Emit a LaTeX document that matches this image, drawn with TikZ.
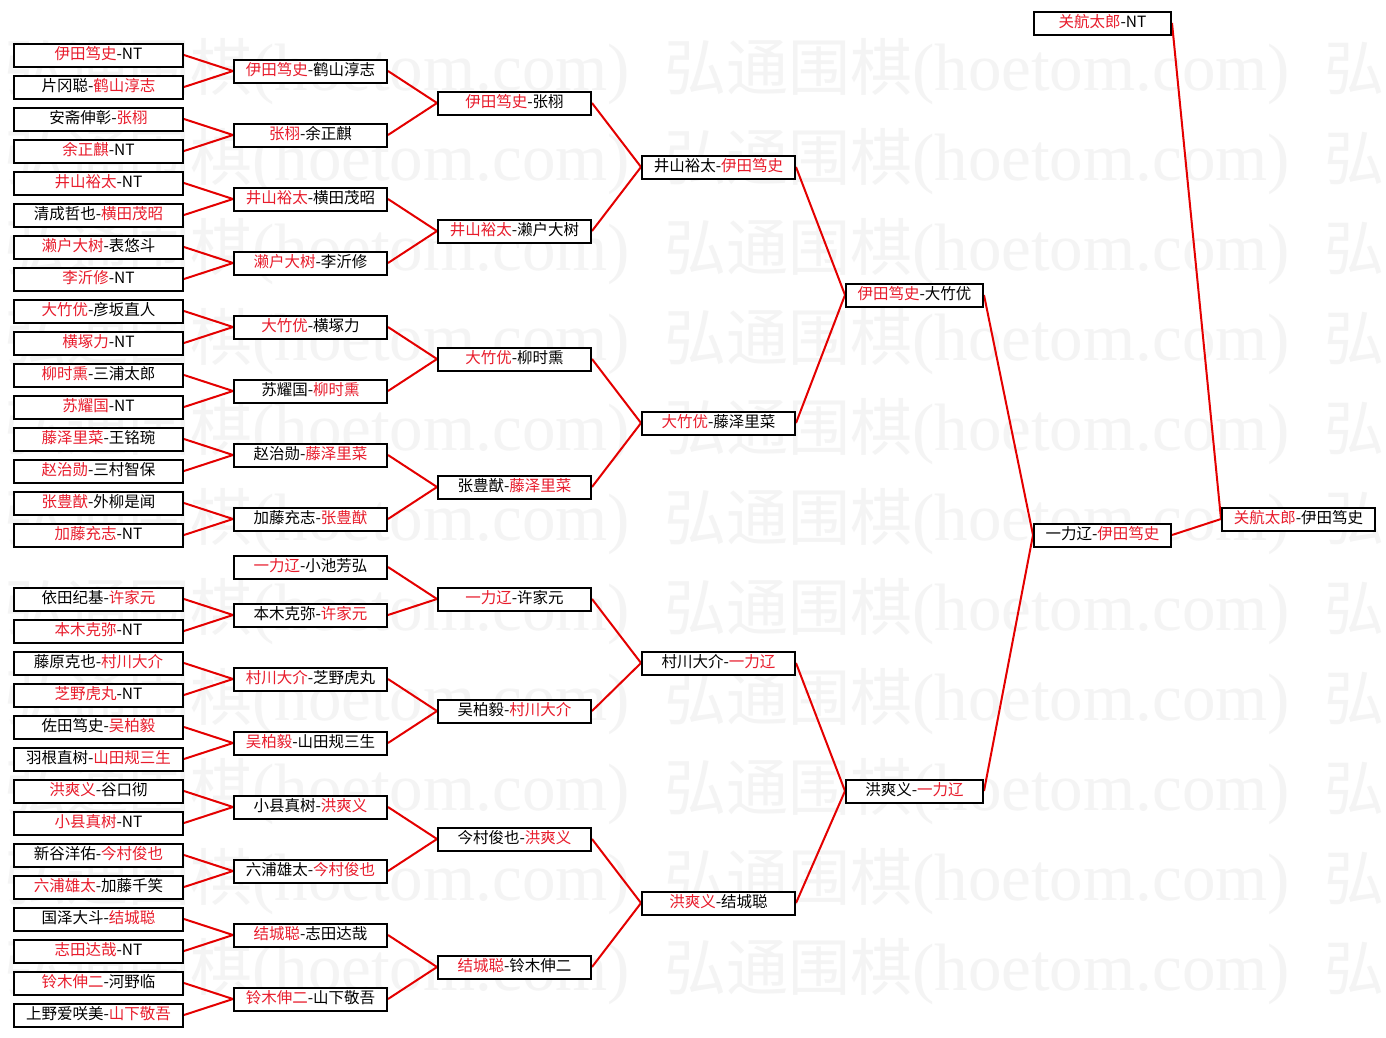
\documentclass[tikz,border=0pt]{standalone}
\usepackage{fontspec}
\setmainfont{Noto Sans CJK SC}
\newfontfamily\wmserif{Liberation Serif}
\definecolor{tred}{RGB}{232,28,44}
\definecolor{lred}{RGB}{228,0,0}
\definecolor{wmgray}{RGB}{244,244,244}
\newcommand{\Rt}[1]{\textcolor{tred}{#1}}
\pgfdeclarelayer{wmlayer}
\pgfdeclarelayer{lklayer}
\pgfsetlayers{wmlayer,lklayer,main}
\begin{document}
\begin{tikzpicture}[x=1pt,y=-1pt,
  pbox/.style={draw=black, line width=2pt, fill=white, inner sep=0pt,
    minimum height=23pt, text height=12pt, text depth=3pt,
    font=\fontsize{15.5}{18}\selectfont},
  w1/.style={pbox, minimum width=169pt},
  w2/.style={pbox, minimum width=153pt},
  w5/.style={pbox, minimum width=137pt},
  link/.style={draw=lred, line width=2pt},
  wmark/.style={text=wmgray, inner sep=0pt, anchor=base west}]
\useasboundingbox (0,0) rectangle (1386,1037);
\begin{pgfonlayer}{wmlayer}
\fill[white] (0,0) rectangle (1386,1037);
\foreach \k in {0,...,10}{
  \foreach \x in {4,664}{
    \node[wmark] (wm-\k-\x) at (\x,{90+90*\k})
      {{\fontsize{62}{62}\selectfont 弘通围棋}{\wmserif\fontsize{67}{67}\selectfont (hoetom.com)}};
  }
  \node[wmark] (wm-\k-r) at (1324,{90+90*\k}) {\fontsize{60}{60}\selectfont 弘};
}
\end{pgfonlayer}
% column 1
\node[w1] (p1) at (98.5,55) {\Rt{伊田笃史}-NT};
\node[w1] (p2) at (98.5,87) {片冈聪-\Rt{鹤山淳志}};
\node[w1] (p3) at (98.5,119) {安斋伸彰-\Rt{张栩}};
\node[w1] (p4) at (98.5,151) {\Rt{余正麒}-NT};
\node[w1] (p5) at (98.5,183) {\Rt{井山裕太}-NT};
\node[w1] (p6) at (98.5,215) {清成哲也-\Rt{横田茂昭}};
\node[w1] (p7) at (98.5,247) {\Rt{濑户大树}-表悠斗};
\node[w1] (p8) at (98.5,279) {\Rt{李沂修}-NT};
\node[w1] (p9) at (98.5,311) {\Rt{大竹优}-彦坂直人};
\node[w1] (p10) at (98.5,343) {\Rt{横塚力}-NT};
\node[w1] (p11) at (98.5,375) {\Rt{柳时熏}-三浦太郎};
\node[w1] (p12) at (98.5,407) {\Rt{苏耀国}-NT};
\node[w1] (p13) at (98.5,439) {\Rt{藤泽里菜}-王铭琬};
\node[w1] (p14) at (98.5,471) {\Rt{赵治勋}-三村智保};
\node[w1] (p15) at (98.5,503) {\Rt{张豊猷}-外柳是闻};
\node[w1] (p16) at (98.5,535) {\Rt{加藤充志}-NT};
\node[w1] (p17) at (98.5,599) {依田纪基-\Rt{许家元}};
\node[w1] (p18) at (98.5,631) {\Rt{本木克弥}-NT};
\node[w1] (p19) at (98.5,663) {藤原克也-\Rt{村川大介}};
\node[w1] (p20) at (98.5,695) {\Rt{芝野虎丸}-NT};
\node[w1] (p21) at (98.5,727) {佐田笃史-\Rt{吴柏毅}};
\node[w1] (p22) at (98.5,759) {羽根直树-\Rt{山田规三生}};
\node[w1] (p23) at (98.5,791) {\Rt{洪爽义}-谷口彻};
\node[w1] (p24) at (98.5,823) {\Rt{小县真树}-NT};
\node[w1] (p25) at (98.5,855) {新谷洋佑-\Rt{今村俊也}};
\node[w1] (p26) at (98.5,887) {\Rt{六浦雄太}-加藤千笑};
\node[w1] (p27) at (98.5,919) {国泽大斗-\Rt{结城聪}};
\node[w1] (p28) at (98.5,951) {\Rt{志田达哉}-NT};
\node[w1] (p29) at (98.5,983) {\Rt{铃木伸二}-河野临};
\node[w1] (p30) at (98.5,1015) {上野爱咲美-\Rt{山下敬吾}};
% column 2
\node[w2] (a1) at (310.5,71) {\Rt{伊田笃史}-鹤山淳志};
\node[w2] (a2) at (310.5,135) {\Rt{张栩}-余正麒};
\node[w2] (a3) at (310.5,199) {\Rt{井山裕太}-横田茂昭};
\node[w2] (a4) at (310.5,263) {\Rt{濑户大树}-李沂修};
\node[w2] (a5) at (310.5,327) {\Rt{大竹优}-横塚力};
\node[w2] (a6) at (310.5,391) {苏耀国-\Rt{柳时熏}};
\node[w2] (a7) at (310.5,455) {赵治勋-\Rt{藤泽里菜}};
\node[w2] (a8) at (310.5,519) {加藤充志-\Rt{张豊猷}};
\node[w2] (a9) at (310.5,567) {\Rt{一力辽}-小池芳弘};
\node[w2] (a10) at (310.5,615) {本木克弥-\Rt{许家元}};
\node[w2] (a11) at (310.5,679) {\Rt{村川大介}-芝野虎丸};
\node[w2] (a12) at (310.5,743) {\Rt{吴柏毅}-山田规三生};
\node[w2] (a13) at (310.5,807) {小县真树-\Rt{洪爽义}};
\node[w2] (a14) at (310.5,871) {六浦雄太-\Rt{今村俊也}};
\node[w2] (a15) at (310.5,935) {\Rt{结城聪}-志田达哉};
\node[w2] (a16) at (310.5,999) {\Rt{铃木伸二}-山下敬吾};
% column 3
\node[w2] (b1) at (514.5,103) {\Rt{伊田笃史}-张栩};
\node[w2] (b2) at (514.5,231) {\Rt{井山裕太}-濑户大树};
\node[w2] (b3) at (514.5,359) {\Rt{大竹优}-柳时熏};
\node[w2] (b4) at (514.5,487) {张豊猷-\Rt{藤泽里菜}};
\node[w2] (b5) at (514.5,599) {\Rt{一力辽}-许家元};
\node[w2] (b6) at (514.5,711) {吴柏毅-\Rt{村川大介}};
\node[w2] (b7) at (514.5,839) {今村俊也-\Rt{洪爽义}};
\node[w2] (b8) at (514.5,967) {\Rt{结城聪}-铃木伸二};
% column 4
\node[w2] (c1) at (718.5,167) {井山裕太-\Rt{伊田笃史}};
\node[w2] (c2) at (718.5,423) {\Rt{大竹优}-藤泽里菜};
\node[w2] (c3) at (718.5,663) {村川大介-\Rt{一力辽}};
\node[w2] (c4) at (718.5,903) {\Rt{洪爽义}-结城聪};
% column 5
\node[w5] (d1) at (914.5,295) {\Rt{伊田笃史}-大竹优};
\node[w5] (d2) at (914.5,791) {洪爽义-\Rt{一力辽}};
% column 6
\node[w5] (e1) at (1102.5,535) {一力辽-\Rt{伊田笃史}};
\node[w5] (top) at (1102.5,23) {\Rt{关航太郎}-NT};
% column 7
\node[w2] (f1) at (1298.5,519) {\Rt{关航太郎}-伊田笃史};
% connectors
\begin{pgfonlayer}{lklayer}
\foreach \s/\t in {p1/a1,p2/a1,p3/a2,p4/a2,p5/a3,p6/a3,p7/a4,p8/a4,
  p9/a5,p10/a5,p11/a6,p12/a6,p13/a7,p14/a7,p15/a8,p16/a8,
  p17/a10,p18/a10,p19/a11,p20/a11,p21/a12,p22/a12,p23/a13,p24/a13,
  p25/a14,p26/a14,p27/a15,p28/a15,p29/a16,p30/a16,
  a1/b1,a2/b1,a3/b2,a4/b2,a5/b3,a6/b3,a7/b4,a8/b4,
  a9/b5,a10/b5,a11/b6,a12/b6,a13/b7,a14/b7,a15/b8,a16/b8,
  b1/c1,b2/c1,b3/c2,b4/c2,b5/c3,b6/c3,b7/c4,b8/c4,
  c1/d1,c2/d1,c3/d2,c4/d2,d1/e1,d2/e1,e1/f1,top/f1}{
  \draw[link] (\s.east) -- (\t.west);
}
\end{pgfonlayer}
\end{tikzpicture}
\end{document}
